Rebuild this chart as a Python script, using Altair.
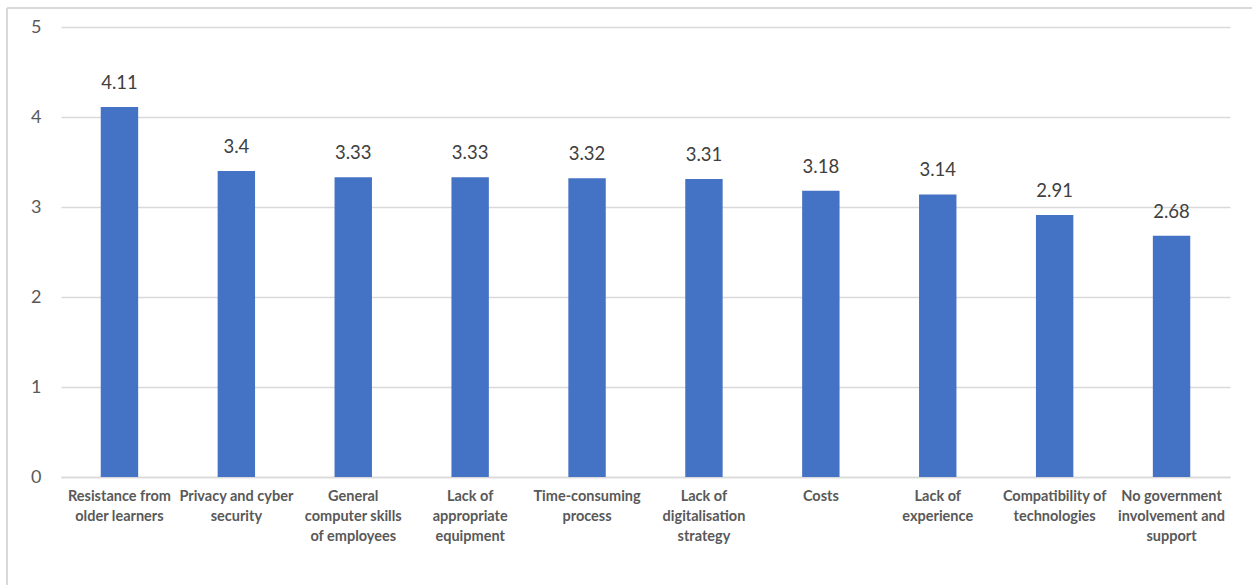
import altair as alt
import pandas as pd

# Barriers to digitalisation, mean scores (0-5 scale)
categories = [
    "Resistance from\nolder learners",
    "Privacy and cyber\nsecurity",
    "General\ncomputer skills\nof employees",
    "Lack of\nappropriate\nequipment",
    "Time-consuming\nprocess",
    "Lack of\ndigitalisation\nstrategy",
    "Costs",
    "Lack of\nexperience",
    "Compatibility of\ntechnologies",
    "No government\ninvolvement and\nsupport",
]
scores = [4.11, 3.4, 3.33, 3.33, 3.32, 3.31, 3.18, 3.14, 2.91, 2.68]
y_ticks = [0, 1, 2, 3, 4, 5]

df = pd.DataFrame({"category": categories, "score": scores})

W, H = 1169, 450
FONT = "Lato"

x_enc = alt.X(
    "category:N",
    sort=None,
    title=None,
    scale=alt.Scale(paddingInner=0.68, paddingOuter=0.34),
    axis=alt.Axis(
        labelExpr="split(datum.label, '\\n')",
        labelAngle=0,
        labelFont=FONT,
        labelFontSize=14.5,
        labelFontWeight="bold",
        labelColor="#595959",
        labelLineHeight=20,
        labelPadding=12,
        labelLimit=200,
        ticks=False,
        domainColor="#d9d9d9",
        domainWidth=1.5,
        grid=False,
    ),
)
y_enc = alt.Y(
    "score:Q",
    title=None,
    scale=alt.Scale(domain=[0, 5], nice=False),
    axis=alt.Axis(
        values=y_ticks,
        format="d",
        labelFont=FONT,
        labelFontSize=18,
        labelColor="#595959",
        labelPadding=20,
        ticks=False,
        domain=False,
        gridColor="#d9d9d9",
        gridWidth=1.5,
    ),
)

bars = alt.Chart(df).mark_bar(color="#4472c4").encode(x=x_enc, y=y_enc)

labels = alt.Chart(df).mark_text(
    baseline="bottom", dy=-14, font=FONT, fontSize=18.5, color="#404040"
).encode(x=alt.X("category:N", sort=None), y="score:Q", text=alt.Text("score:Q"))

# Outer frame lines (top and left edges)
frame_top = alt.Chart(df).mark_rule(color="#d9d9d9", strokeWidth=1.5).encode(
    x=alt.value(-54), x2=alt.value(W + 40), y=alt.value(-19)
)
frame_left = alt.Chart(df).mark_rule(color="#d9d9d9", strokeWidth=1.5).encode(
    x=alt.value(-54), y=alt.value(-19), y2=alt.value(H + 120)
)

chart = (
    alt.layer(bars, labels, frame_top, frame_left)
    .properties(
        width=W,
        height=H,
        autosize=alt.AutoSizeParams(type="none"),
        padding={"left": 61, "top": 27, "right": 22, "bottom": 108},
    )
    .configure_view(stroke=None)
)

chart.save("out.html", embed_options={"renderer": "svg", "actions": False})
